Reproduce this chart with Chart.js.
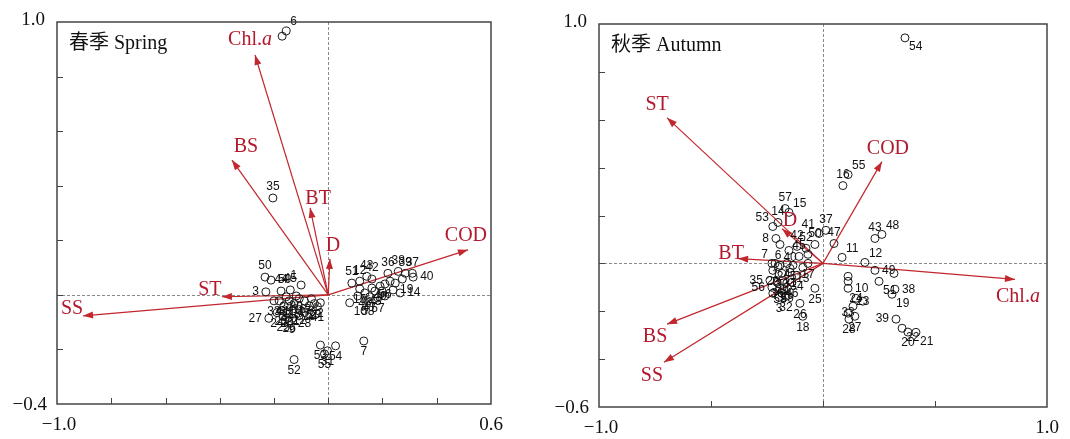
<!DOCTYPE html>
<html>
<head>
<meta charset="utf-8">
<script src="https://cdn.jsdelivr.net/npm/chart.js@4.4.0/dist/chart.umd.min.js"></script>
<style>
  body { margin: 0; background: #fff; width: 1070px; height: 439px; overflow: hidden; position: relative; }
  canvas { position: absolute; top: 0; }
  #spring { left: 0; }
  #autumn { left: 535px; }
</style>
</head>
<body>
<canvas id="spring" width="535" height="439"></canvas>
<canvas id="autumn" width="535" height="439"></canvas>
<script>
// ---- spring (site scores) ----
var springSites = ['6','','35','50','59','3','1','2','10','7','52','53','54','31','55','27','23','9','5',
  '4','8','11','13','16','17','18','20','21','22','24','25','26','28','29','30','32','33','34','41','44','45',
  '51','12','43','42','36','38','39','37','40','19','14',
  '15','46','47','48','49','56','57','58','','','','','','',''];
var springX = [-0.155,-0.170,-0.204,-0.233,-0.211,-0.230,-0.100,-0.029,0.079,0.131,-0.126,-0.029,0.027,-0.003,-0.014,-0.219,-0.174,-0.133,-0.107,
  -0.181,-0.163,-0.144,-0.126,-0.107,-0.088,-0.070,-0.152,-0.130,-0.107,-0.189,-0.166,-0.144,-0.088,-0.051,-0.118,-0.155,-0.200,-0.062,-0.040,-0.174,-0.140,
  0.087,0.116,0.142,0.161,0.220,0.258,0.284,0.310,0.313,0.239,0.265,
  0.116,0.135,0.153,0.172,0.191,0.209,0.183,0.146,0.209,0.228,0.247,0.273,0.161,0.198,0.109];
var springY = [0.967,0.948,0.355,0.065,0.054,0.011,0.036,-0.029,-0.029,-0.169,-0.237,-0.184,-0.187,-0.205,-0.216,-0.086,-0.058,-0.086,-0.076,
  -0.022,-0.040,-0.022,-0.032,-0.014,-0.022,-0.040,-0.065,-0.058,-0.054,-0.065,-0.079,-0.083,-0.065,-0.032,-0.004,-0.007,-0.022,-0.014,-0.043,0.014,0.018,
  0.043,0.050,0.068,0.058,0.079,0.086,0.079,0.079,0.065,0.018,0.007,
  0.022,0.007,-0.007,0.014,0.032,0.040,-0.011,-0.022,-0.004,0.050,0.043,0.058,0.025,0.014,-0.004];
// spring (environmental vectors)
var springEnv = ['Chl.a','BS','BT','D','COD','ST','SS'];
var springEnvX = [-0.270,-0.355,-0.067,0.006,0.515,-0.392,-0.904];
var springEnvY = [0.879,0.494,0.319,0.132,0.165,-0.007,-0.077];
// spring axes
var springXRange = [-1.0, 0.6];
var springYRange = [-0.4, 1.0];
var springXTicks = [-0.8,-0.6,-0.4,-0.2,0,0.2,0.4];
var springYTicks = [-0.2,0,0.2,0.4,0.6,0.8];
var springXLabels = ['\u22121.0','0.6'];
var springYLabels = ['\u22120.4','1.0'];

// ---- autumn (site scores) ----
var autumnSites = ['54','55','16','57','15','53','14','8','','37','41','47','11','43','48','42','52','50','45','','','7','6','40','12','49','','51','38','19',
  '39','22','20','21','','','10','24','23','','33','27','28','25','26','18',
  '1','2','4','5','13','17','29','30','31','34','35','36','44','46','56','58','59','','','','3','32'];
var autumnX = [0.366,0.112,0.089,-0.169,-0.152,-0.224,-0.201,-0.210,-0.192,0.013,-0.018,0.049,0.085,0.232,0.263,-0.116,-0.076,-0.036,-0.107,-0.067,
  -0.152,-0.228,-0.201,-0.147,0.187,0.232,0.317,0.250,0.321,0.308,0.326,0.353,0.379,0.415,0.112,0.112,0.112,0.147,0.178,0.134,
  0.112,0.142,0.116,-0.036,-0.103,-0.090,
  -0.214,-0.192,-0.160,-0.134,-0.090,-0.067,-0.224,-0.183,-0.147,-0.116,-0.237,-0.205,-0.179,-0.139,-0.228,-0.192,-0.160,-0.224,-0.183,-0.156,-0.196,-0.165];
var autumnY = [0.942,0.371,0.325,0.229,0.213,0.154,0.171,0.104,0.079,0.138,0.125,0.083,0.025,0.104,0.121,0.071,0.063,0.079,0.029,0.038,
  0.054,0.000,-0.013,-0.021,0.004,-0.029,-0.042,-0.075,-0.108,-0.129,-0.233,-0.271,-0.287,-0.288,-0.054,-0.075,-0.104,-0.146,-0.158,-0.179,
  -0.208,-0.221,-0.233,-0.104,-0.167,-0.221,
  0.000,-0.008,0.000,-0.008,-0.017,0.000,-0.029,-0.042,-0.038,-0.050,-0.071,-0.079,-0.071,-0.079,-0.100,-0.104,-0.100,-0.125,-0.125,-0.133,-0.142,-0.138];
// autumn (environmental vectors)
var autumnEnv = ['ST','COD','D','BT','Chl.a','BS','SS'];
var autumnEnvX = [-0.696,0.263,-0.183,-0.379,0.857,-0.696,-0.710];
var autumnEnvY = [0.608,0.425,0.145,0.020,-0.067,-0.254,-0.413];
// autumn axes
var autumnXRange = [-1.0, 1.0];
var autumnYRange = [-0.6, 1.0];
var autumnXTicks = [-0.5,0,0.5];
var autumnYTicks = [-0.4,-0.2,0,0.2,0.4,0.6,0.8];
var autumnXLabels = ['\u22121.0','1.0'];
var autumnYLabels = ['\u22120.6','1.0'];

// styling: where the site number sits relative to its circle, and env label nudges (px)
var springSide = {'6':'ne','35':'n','50':'n','59':'e','3':'w','1':'nw','2':'s','10':'se','27':'w','5':'e','44':'n','45':'n',
  '51':'n','12':'n','43':'n','42':'n','36':'n','38':'n','39':'n','37':'n','40':'e','19':'e','14':'e'};
var autumnSide = {'54':'se','55':'ne','16':'n','57':'n','15':'ne','53':'nw','14':'n','8':'w','37':'n','41':'nw','47':'n','11':'ne',
  '43':'n','48':'ne','42':'n','52':'n','50':'n','45':'n','7':'nw','6':'n','40':'n','12':'ne','49':'e','51':'se','38':'e','19':'se',
  '39':'w','22':'se','20':'s','21':'se','10':'e','24':'c','23':'c','33':'c','27':'s','28':'s','25':'s','26':'s','18':'s','35':'w','56':'w'};
var springEnvNudge = [[-5,-15],[14,-13],[8,-9],[3,-13],[-2,-14],[-12,-7],[-11,-7]];
var autumnEnvNudge = [[-10,-13],[6,-13],[8,-8],[-7,-5],[3,17],[-12,13],[-12,14]];

var RED_LINE = '#c1272d';
var RED_TEXT = '#b3182c';
var SERIF = '"Liberation Serif", "DejaVu Serif", serif';

var SIDE = {
  n: [0, -11, 'center'], s: [0, 11, 'center'], e: [7, 0, 'left'], w: [-7, 0, 'right'],
  ne: [4, -9, 'left'], nw: [-4, -9, 'right'], se: [4, 9, 'left'], sw: [-4, 9, 'right'], c: [0, 0, 'center']
};

function drawEnvName(ctx, name, cx, cy) {
  ctx.fillStyle = RED_TEXT;
  ctx.textBaseline = 'middle';
  ctx.textAlign = 'left';
  if (name === 'Chl.a') {
    ctx.font = '20px ' + SERIF;
    var w1 = ctx.measureText('Chl.').width;
    ctx.font = 'italic 20px ' + SERIF;
    var w2 = ctx.measureText('a').width;
    var x0 = cx - (w1 + w2) / 2;
    ctx.font = '20px ' + SERIF;
    ctx.fillText('Chl.', x0, cy);
    ctx.font = 'italic 20px ' + SERIF;
    ctx.fillText('a', x0 + w1, cy);
  } else {
    ctx.font = '20px ' + SERIF;
    var w = ctx.measureText(name).width;
    ctx.fillText(name, cx - w / 2, cy);
  }
}

function rdaPlugin(p) {
  return {
    id: 'rda',
    beforeDatasetsDraw: function(chart) {
      var ctx = chart.ctx, a = chart.chartArea, xs = chart.scales.x, ys = chart.scales.y;
      ctx.save();
      ctx.strokeStyle = '#8a8a8a';
      ctx.lineWidth = 1;
      ctx.setLineDash([3, 2]);
      var x0 = Math.round(xs.getPixelForValue(0)) + 0.5;
      var y0 = Math.round(ys.getPixelForValue(0)) + 0.5;
      ctx.beginPath();
      ctx.moveTo(x0, a.top); ctx.lineTo(x0, a.bottom);
      ctx.moveTo(a.left, y0); ctx.lineTo(a.right, y0);
      ctx.stroke();
      ctx.restore();
    },
    afterDatasetsDraw: function(chart) {
      var ctx = chart.ctx, a = chart.chartArea, xs = chart.scales.x, ys = chart.scales.y;
      ctx.save();

      // site numbers
      ctx.fillStyle = '#111';
      ctx.font = '12px "Liberation Sans", Arial, sans-serif';
      ctx.textBaseline = 'middle';
      p.sites.forEach(function(s, i) {
        if (!s) return;
        var side = SIDE[p.side[s] || 's'];
        ctx.textAlign = side[2];
        ctx.fillText(s, xs.getPixelForValue(p.x[i]) + side[0], ys.getPixelForValue(p.y[i]) + side[1]);
      });

      // arrow heads + env names
      var ox = xs.getPixelForValue(0), oy = ys.getPixelForValue(0);
      p.env.forEach(function(name, i) {
        var tx = xs.getPixelForValue(p.envX[i]), ty = ys.getPixelForValue(p.envY[i]);
        var ang = Math.atan2(ty - oy, tx - ox);
        var len = 10, half = 3.5;
        ctx.fillStyle = RED_LINE;
        ctx.beginPath();
        ctx.moveTo(tx, ty);
        ctx.lineTo(tx - len * Math.cos(ang) + half * Math.sin(ang), ty - len * Math.sin(ang) - half * Math.cos(ang));
        ctx.lineTo(tx - len * Math.cos(ang) - half * Math.sin(ang), ty - len * Math.sin(ang) + half * Math.cos(ang));
        ctx.closePath();
        ctx.fill();
        drawEnvName(ctx, name, tx + p.nudge[i][0], ty + p.nudge[i][1]);
      });

      // frame
      ctx.strokeStyle = '#444';
      ctx.lineWidth = 1.5;
      ctx.strokeRect(a.left, a.top, a.right - a.left, a.bottom - a.top);

      // inward tick marks
      ctx.lineWidth = 1;
      ctx.beginPath();
      p.xTicks.forEach(function(v) {
        var px = Math.round(xs.getPixelForValue(v)) + 0.5;
        ctx.moveTo(px, a.bottom); ctx.lineTo(px, a.bottom - 6);
      });
      p.yTicks.forEach(function(v) {
        var py = Math.round(ys.getPixelForValue(v)) + 0.5;
        ctx.moveTo(a.left, py); ctx.lineTo(a.left + 6, py);
      });
      ctx.stroke();

      // end labels
      ctx.fillStyle = '#111';
      ctx.font = '19px ' + SERIF;
      ctx.textBaseline = 'middle';
      ctx.textAlign = 'center';
      ctx.fillText(p.xLabels[0], xs.getPixelForValue(p.xRange[0]) + 2, a.bottom + 21);
      ctx.fillText(p.xLabels[1], xs.getPixelForValue(p.xRange[1]), a.bottom + 21);
      ctx.textAlign = 'right';
      ctx.fillText(p.yLabels[0], a.left - 10, ys.getPixelForValue(p.yRange[0]) + 1);
      ctx.fillText(p.yLabels[1], a.left - 12, ys.getPixelForValue(p.yRange[1]) - 2);

      // panel title
      ctx.textAlign = 'left';
      ctx.font = '20px ' + SERIF + ', "Noto Sans CJK SC"';
      ctx.fillText(p.title, a.left + 12, a.top + 22);
      ctx.restore();
    }
  };
}

function buildChart(canvasId, p) {
  var datasets = [{
    data: p.x.map(function(v, i) { return { x: v, y: p.y[i] }; }),
    pointRadius: 4,
    pointHoverRadius: 4,
    borderColor: '#1a1a1a',
    backgroundColor: 'rgba(255,255,255,0)',
    borderWidth: 1
  }];
  p.env.forEach(function(name, i) {
    datasets.push({
      data: [{ x: 0, y: 0 }, { x: p.envX[i], y: p.envY[i] }],
      showLine: true,
      borderColor: RED_LINE,
      borderWidth: 1.2,
      pointRadius: 0,
      fill: false
    });
  });
  return new Chart(document.getElementById(canvasId), {
    type: 'scatter',
    data: { datasets: datasets },
    options: {
      responsive: false,
      animation: false,
      devicePixelRatio: 1,
      events: [],
      layout: { padding: p.pad },
      plugins: { legend: { display: false }, tooltip: { enabled: false } },
      scales: {
        x: { type: 'linear', min: p.xRange[0], max: p.xRange[1], display: false },
        y: { type: 'linear', min: p.yRange[0], max: p.yRange[1], display: false }
      }
    },
    plugins: [rdaPlugin(p)]
  });
}

buildChart('spring', {
  title: '春季 Spring',
  sites: springSites, x: springX, y: springY, side: springSide,
  env: springEnv, envX: springEnvX, envY: springEnvY, nudge: springEnvNudge,
  xRange: springXRange, yRange: springYRange, xTicks: springXTicks, yTicks: springYTicks,
  xLabels: springXLabels, yLabels: springYLabels,
  pad: { left: 57, right: 44, top: 22, bottom: 35 }
});

buildChart('autumn', {
  title: '秋季 Autumn',
  sites: autumnSites, x: autumnX, y: autumnY, side: autumnSide,
  env: autumnEnv, envX: autumnEnvX, envY: autumnEnvY, nudge: autumnEnvNudge,
  xRange: autumnXRange, yRange: autumnYRange, xTicks: autumnXTicks, yTicks: autumnYTicks,
  xLabels: autumnXLabels, yLabels: autumnYLabels,
  pad: { left: 64, right: 23, top: 24, bottom: 32 }
});
</script>
</body>
</html>
